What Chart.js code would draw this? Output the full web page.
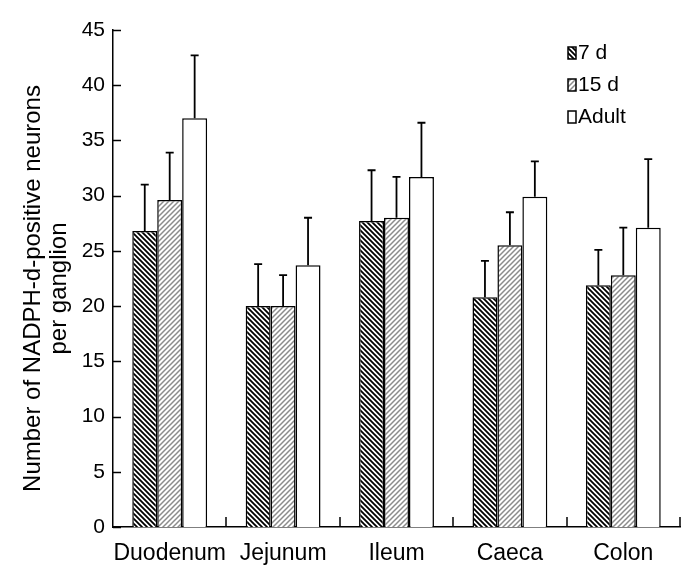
<!DOCTYPE html>
<html>
<head>
<meta charset="utf-8">
<script src="https://cdn.jsdelivr.net/npm/chart.js@4/dist/chart.umd.min.js"></script>
<style>
  html, body { margin: 0; padding: 0; background: #fff; }
  #wrap { width: 700px; height: 585px; }
</style>
</head>
<body>
<div id="wrap"><canvas id="chart" width="700" height="585"></canvas></div>
<script>
// --- data ---
const categories = ['Duodenum', 'Jejunum', 'Ileum', 'Caeca', 'Colon'];
const seriesNames = ['7 d', '15 d', 'Adult'];
const d7 = [26.8, 20.0, 27.7, 20.8, 21.9];
const d7Err = [4.2, 3.8, 4.6, 3.3, 3.2];
const d15 = [29.6, 20.0, 28.0, 25.5, 22.8];
const d15Err = [4.3, 2.8, 3.7, 3.0, 4.3];
const adult = [37.0, 23.7, 31.7, 29.9, 27.1];
const adultErr = [5.7, 4.3, 4.9, 3.2, 6.2];
const yTicks = [0, 5, 10, 15, 20, 25, 30, 35, 40, 45];

const FONT = '"Liberation Sans", Arial, sans-serif';

// hatch fills
function hatch(color, dir, lw, size) {
    const c = document.createElement('canvas');
    c.width = size; c.height = size;
    const g = c.getContext('2d');
    g.fillStyle = '#fff';
    g.fillRect(0, 0, size, size);
    g.strokeStyle = color;
    g.lineWidth = lw;
    g.beginPath();
    if (dir === 'back') {
        g.moveTo(-1, -1); g.lineTo(size + 1, size + 1);
        g.moveTo(-1, size - 1); g.lineTo(1, size + 1);
        g.moveTo(size - 1, -1); g.lineTo(size + 1, 1);
    } else {
        g.moveTo(-1, size + 1); g.lineTo(size + 1, -1);
        g.moveTo(-1, 1); g.lineTo(1, -1);
        g.moveTo(size - 1, size + 1); g.lineTo(size + 1, size - 1);
    }
    g.stroke();
    return g.createPattern(c, 'repeat');
}

const ctx = document.getElementById('chart').getContext('2d');
const fill7 = hatch('#000', 'back', 1.8, 5);
const fill15 = hatch('#8c8c8c', 'fwd', 1.5, 5);
const errs = [d7Err, d15Err, adultErr];

// error bars, inward axis ticks and the legend
const extras = {
    id: 'extras',
    afterDatasetsDraw(chart) {
        const c = chart.ctx;
        const y = chart.scales.y;
        const x = chart.scales.x;
        const area = chart.chartArea;
        c.save();
        c.strokeStyle = '#000';
        c.lineWidth = 1.8;
        chart.data.datasets.forEach((ds, i) => {
            const meta = chart.getDatasetMeta(i);
            meta.data.forEach((bar, j) => {
                const top = y.getPixelForValue(ds.data[j] + errs[i][j]);
                c.beginPath();
                c.moveTo(bar.x, bar.y);
                c.lineTo(bar.x, top);
                c.moveTo(bar.x - 4, top);
                c.lineTo(bar.x + 4, top);
                c.stroke();
            });
        });

        // y ticks pointing right
        c.lineWidth = 1.5;
        yTicks.forEach(v => {
            const py = Math.round(y.getPixelForValue(v)) + 0.5;
            c.beginPath();
            c.moveTo(area.left, py);
            c.lineTo(area.left + 8, py);
            c.stroke();
        });
        // x ticks between groups, pointing up
        categories.forEach((_, i) => {
            const px = Math.round(x.getPixelForValue(i + 0.5));
            c.beginPath();
            c.moveTo(px, area.bottom);
            c.lineTo(px, area.bottom - 10);
            c.stroke();
        });

        // legend
        const fills = [fill7, fill15, '#fff'];
        c.font = '21px ' + FONT;
        c.textBaseline = 'middle';
        seriesNames.forEach((name, i) => {
            const cy = 53 + i * 32;
            c.fillStyle = fills[i];
            c.fillRect(568, cy - 6, 8, 12);
            c.lineWidth = 1.5;
            c.strokeRect(568, cy - 6, 8, 12);
            c.fillStyle = '#000';
            c.fillText(name, 578, cy);
        });
        c.restore();
    }
};

new Chart(ctx, {
    type: 'bar',
    data: {
        labels: categories,
        datasets: [
            { label: seriesNames[0], data: d7, backgroundColor: fill7 },
            { label: seriesNames[1], data: d15, backgroundColor: fill15 },
            { label: seriesNames[2], data: adult, backgroundColor: '#fff' }
        ].map(ds => Object.assign(ds, {
            borderColor: '#000',
            borderWidth: 1.5,
            borderSkipped: 'bottom',
            barPercentage: 1,
            categoryPercentage: 0.66
        }))
    },
    options: {
        responsive: false,
        devicePixelRatio: 1,
        animation: false,
        layout: { padding: { left: 0, right: 20, top: 30, bottom: 0 } },
        plugins: {
            legend: { display: false },
            tooltip: { enabled: false }
        },
        scales: {
            x: {
                grid: { display: false, drawTicks: false },
                border: { display: true, color: '#000', width: 1.5 },
                ticks: { color: '#000', font: { family: FONT, size: 23 }, padding: 13, maxRotation: 0, autoSkip: false },
                afterFit(scale) { scale.height = 58; }
            },
            y: {
                min: 0,
                max: 45,
                grid: { display: false, drawTicks: false },
                border: { display: true, color: '#000', width: 1.5 },
                ticks: { color: '#000', stepSize: 5, font: { family: FONT, size: 21 }, padding: 8 },
                title: {
                    display: true,
                    // trailing spaces nudge the centred title a little lower, as in the figure
                    text: ['Number of NADPH-d-positive neurons   ', 'per ganglion   '],
                    color: '#000',
                    font: { family: FONT, size: 24, lineHeight: 1.08 },
                    padding: { top: 20, bottom: 0 }
                },
                afterFit(scale) { scale.width = 113; }
            }
        }
    },
    plugins: [extras]
});
</script>
</body>
</html>
